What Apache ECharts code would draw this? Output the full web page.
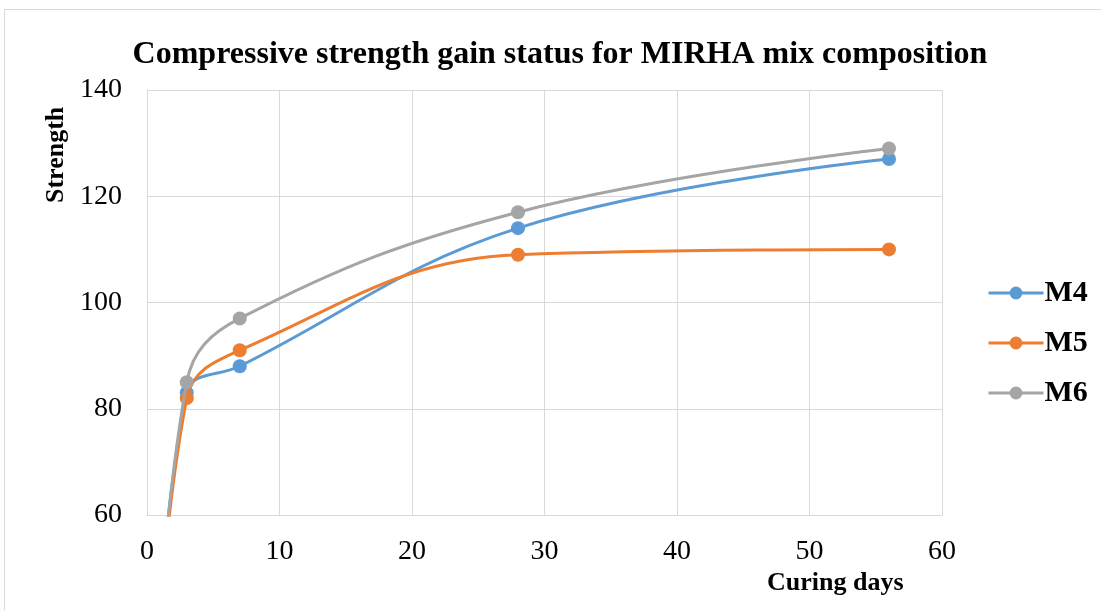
<!DOCTYPE html>
<html><head><meta charset="utf-8">
<script src="https://cdn.jsdelivr.net/npm/echarts@6/dist/echarts.min.js"></script>
<style>
html,body{margin:0;padding:0;background:#fff;}
#frame{position:absolute;left:4px;top:9px;width:1110px;height:620px;border:1px solid #d9d9d9;box-sizing:border-box;}
#c{position:absolute;left:0;top:0;width:1101px;height:610px;}
</style></head>
<body><div id="frame"></div><div id="c"></div>
<script>
const days = [0, 3, 7, 28, 56];
const seriesNames = ['M4', 'M5', 'M6'];
const m4 = [0, 83, 88, 114, 127];
const m5 = [0, 82, 91, 109, 110];
const m6 = [0, 85, 97, 117, 129];
const colors = ['#5b9bd5', '#ed7d31', '#a5a5a5'];
const xTicks = [0, 10, 20, 30, 40, 50, 60];
const yTicks = [60, 80, 100, 120, 140];
const titleText = 'Compressive strength gain status for MIRHA mix composition';
const xName = 'Curing days';
const yName = 'Strength';

const values = [m4, m5, m6];
const chart = echarts.init(document.getElementById('c'));
const font = '"Liberation Serif","Times New Roman",serif';
chart.setOption({
  animation: false,
  title: {
    text: titleText,
    left: 555, textAlign: 'center', top: 34,
    textStyle: {fontFamily: font, fontSize: 32, fontWeight: 'bold', color: '#000'}
  },
  legend: {
    orient: 'vertical', left: 982, top: 273, itemGap: 20,
    itemWidth: 55, itemHeight: 16,
    data: seriesNames,
    lineStyle: {width: 3},
    textStyle: {fontFamily: font, fontSize: 30, fontWeight: 'bold', color: '#000', padding: [0,0,0,-4]}
  },
  graphic: [
    {type: 'text', left: 767, top: 570, style: {text: xName, fontFamily: font, fontSize: 26, fontWeight: 'bold', fill: '#000'}},
    {type: 'text', x: 43, y: 203, rotation: Math.PI/2, style: {text: yName, fontFamily: font, fontSize: 26, fontWeight: 'bold', fill: '#000', textAlign: 'left', textVerticalAlign: 'top'}}
  ],
  grid: {left: 147, right: 1101 - 942, top: 90, bottom: 610 - 515, containLabel: false},
  xAxis: {
    type: 'value', min: xTicks[0], max: xTicks[xTicks.length-1], interval: 10,
    axisLine: {show: true, lineStyle: {color: '#d9d9d9', width: 1}},
    axisTick: {show: false},
    axisLabel: {fontFamily: font, fontSize: 28, color: '#000', margin: 23},
    splitLine: {show: true, lineStyle: {color: '#d9d9d9', width: 1}}
  },
  yAxis: {
    type: 'value', min: yTicks[0], max: yTicks[yTicks.length-1], interval: 20,
    axisLine: {show: true, lineStyle: {color: '#d9d9d9', width: 1}},
    axisTick: {show: false},
    axisLabel: {fontFamily: font, fontSize: 28, color: '#000', margin: 25},
    splitLine: {show: true, lineStyle: {color: '#d9d9d9', width: 1}}
  },
  series: seriesNames.map((n, i) => ({
    name: n, type: 'line', smooth: 0.4, clip: true,
    data: days.map((d, j) => [d, values[i][j]]),
    symbol: 'circle', symbolSize: 14,
    lineStyle: {color: colors[i], width: 3},
    itemStyle: {color: colors[i]},
    z: 3 + i
  }))
});
</script></body></html>
